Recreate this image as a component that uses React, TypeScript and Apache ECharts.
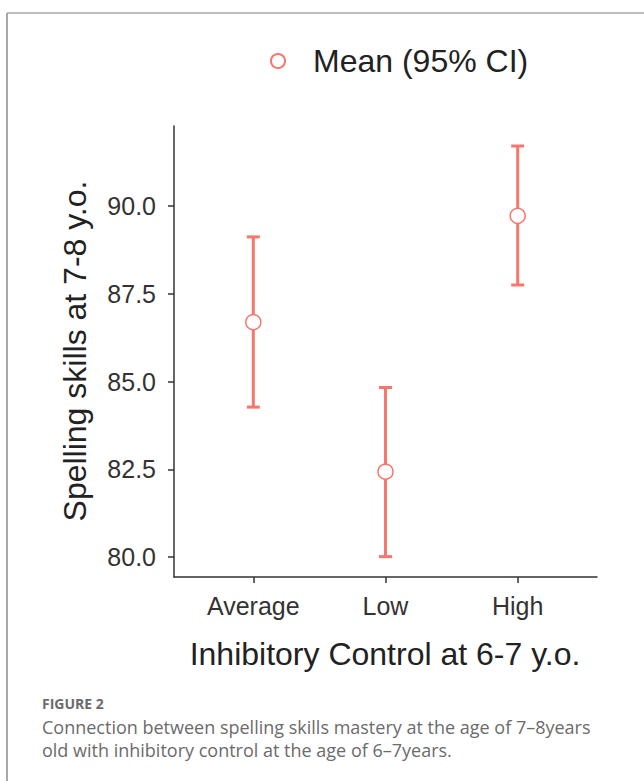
import React, { useEffect, useRef } from "react";
import * as echarts from "echarts";

const categories = ["Average", "Low", "High"];
const means = [86.69, 82.43, 89.72];
const lowerCI = [84.27, 80.01, 87.75];
const upperCI = [89.12, 84.83, 91.71];
const yTicks = [80, 82.5, 85, 87.5, 90];
const xTicks = [0, 1, 2];

const seriesName = "Mean (95% CI)";
const xTitle = "Inhibitory Control at 6-7 y.o.";
const yTitle = "Spelling skills at 7-8 y.o.";
const figLabel = "FIGURE 2";
const captionLines = [
  "Connection between spelling skills mastery at the age of 7\u20138years",
  "old with inhibitory control at the age of 6\u20137years.",
];

const RED = "#F8766D";
const AXIS = "#333333";
const FONT = "'Liberation Sans', Arial, Helvetica, sans-serif";
const CAPFONT = "'Open Sans', Lato, sans-serif";

export default function App() {
  const ref = useRef<HTMLDivElement>(null);
  useEffect(() => {
    if (!ref.current) return;
    const chart = echarts.init(ref.current, undefined, { renderer: "svg" });
    const errData = categories.map((_, i) => [i, lowerCI[i], upperCI[i]]);
    const meanData = categories.map((_, i) => [i, means[i]]);
    chart.setOption({
      animation: false,
      backgroundColor: "#ffffff",
      textStyle: { fontFamily: FONT },
      grid: { left: 174, top: 126, right: 47, bottom: 204, containLabel: false },
      legend: {
        data: [{ name: seriesName, icon: "emptyCircle" }],
        left: 265,
        top: 40,
        itemWidth: 14,
        itemHeight: 14,
        textStyle: { fontSize: 32, color: "#222222", fontFamily: FONT, padding: [0, 0, 0, 23] },
        itemStyle: { color: RED, borderColor: RED, borderWidth: 1.5 },
      },
      xAxis: {
        type: "value",
        min: -0.6,
        max: 2.6,
        splitLine: { show: false },
        axisLine: { show: true, onZero: false, lineStyle: { color: AXIS, width: 1.5 } },
        axisTick: { show: true, length: 6, lineStyle: { color: AXIS, width: 1.5 }, customValues: xTicks },
        axisLabel: {
          customValues: xTicks,
          formatter: (v: number) => categories[Math.round(v)] ?? "",
          fontSize: 25,
          color: "#333333",
          margin: 16,
          fontFamily: FONT,
        },
      },
      yAxis: {
        type: "value",
        min: 79.43,
        max: 92.28,
        splitLine: { show: false },
        axisLine: { show: true, onZero: false, lineStyle: { color: AXIS, width: 1.5 } },
        axisTick: { show: true, length: 6, lineStyle: { color: AXIS, width: 1.5 }, customValues: yTicks },
        axisLabel: {
          customValues: yTicks,
          formatter: (v: number) => v.toFixed(1),
          fontSize: 25,
          color: "#333333",
          margin: 18,
          fontFamily: FONT,
        },
      },
      series: [
        {
          type: "custom",
          name: "ci",
          data: errData,
          z: 2,
          renderItem: (params: any, api: any) => {
            const x = api.value(0);
            const lo = api.coord([x, api.value(1)]);
            const hi = api.coord([x, api.value(2)]);
            const hw = 6.5;
            const style = { stroke: RED, lineWidth: 3 };
            return {
              type: "group",
              children: [
                { type: "line", shape: { x1: lo[0], y1: lo[1], x2: hi[0], y2: hi[1] }, style },
                { type: "line", shape: { x1: lo[0] - hw, y1: lo[1], x2: lo[0] + hw, y2: lo[1] }, style },
                { type: "line", shape: { x1: hi[0] - hw, y1: hi[1], x2: hi[0] + hw, y2: hi[1] }, style },
              ],
            };
          },
        },
        {
          type: "scatter",
          name: seriesName,
          data: meanData,
          symbol: "circle",
          symbolSize: 15,
          z: 5,
          itemStyle: { color: "#ffffff", borderColor: RED, borderWidth: 1.5, opacity: 1 },
        },
      ],
      graphic: [
        { type: "line", shape: { x1: 7, y1: 13, x2: 644, y2: 13 }, style: { stroke: "#bdbdbd", lineWidth: 2 } },
        { type: "line", shape: { x1: 7, y1: 13, x2: 7, y2: 781 }, style: { stroke: "#a8a8a8", lineWidth: 2 } },
        {
          type: "text",
          x: 385,
          y: 654,
          style: { text: xTitle, fontSize: 32, fill: "#222222", fontFamily: FONT, align: "center", verticalAlign: "middle" },
        },
        {
          type: "text",
          x: 75,
          y: 351,
          rotation: Math.PI / 2,
          style: { text: yTitle, fontSize: 32, fill: "#222222", fontFamily: FONT, align: "center", verticalAlign: "middle" },
        },
        {
          type: "text",
          x: 42,
          y: 703,
          style: { text: figLabel, fontSize: 14, fontWeight: "bold", fill: "#6b6b6b", fontFamily: CAPFONT, verticalAlign: "middle" },
        },
        {
          type: "text",
          x: 42,
          y: 727,
          style: { text: captionLines[0], fontSize: 18, fill: "#6b6b6b", fontFamily: CAPFONT, verticalAlign: "middle" },
        },
        {
          type: "text",
          x: 42,
          y: 750,
          style: { text: captionLines[1], fontSize: 18, fill: "#6b6b6b", fontFamily: CAPFONT, verticalAlign: "middle" },
        },
      ],
    });
    return () => chart.dispose();
  }, []);
  return <div ref={ref} style={{ position: "fixed", left: 0, top: 0, width: 644, height: 781 }} />;
}
